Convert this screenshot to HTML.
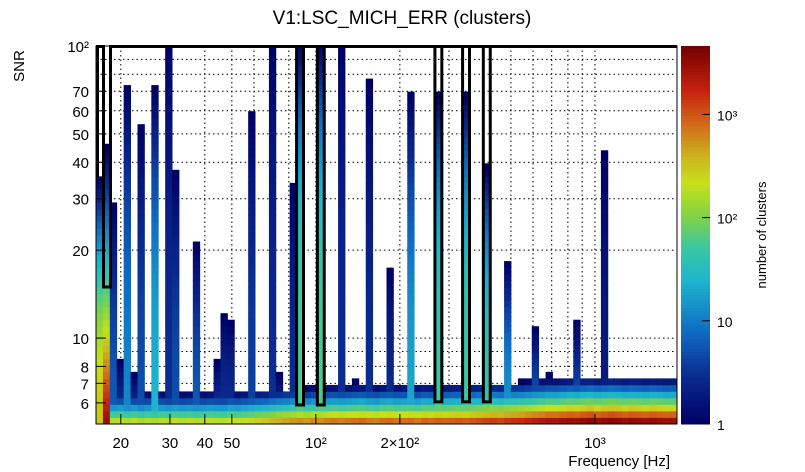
<!DOCTYPE html>
<html><head><meta charset="utf-8"><style>
body{margin:0;background:#fff;}
svg{display:block;font-family:"Liberation Sans",sans-serif;}
</style></head><body>
<svg id="chart" width="805" height="472" viewBox="0 0 805 472">
<rect width="805" height="472" fill="#fff"/>
<text x="402" y="24" font-size="19" text-anchor="middle">V1:LSC_MICH_ERR (clusters)</text>
<text transform="translate(24,66) rotate(-90)" font-size="15" text-anchor="middle">SNR</text>
<text x="670" y="466" font-size="15" text-anchor="end">Frequency [Hz]</text>
<text transform="translate(766,235) rotate(-90)" font-size="13" text-anchor="middle">number of clusters</text>
<g id="grid"></g><g id="cells"></g><g id="outl"></g><g id="axes"></g><g id="cbar"></g>
</svg>
<script>
const xMinF = 16.3, xMaxF = 1968, yMinS = 5.08, yMaxS = 100, cMax = 4600;
const nBins = 84, nRows = 58;
const baseCounts = [300,3000,180,200,160,190,150,180,160,190,170,200,180,190,170,180,200,190,180,220,200,230,250,280,300,350,400,450,500,550,500,600,550,650,700,650,700,750,800,700,650,750,800,700,750,800,700,850,800,900,850,900,950,900,1000,1100,1200,1300,1200,1400,1500,1600,1800,2000,2200,2500,2400,2700,3000,2800,3200,3500,3000,3300,3600,3400,3000,3300,3100,2900,3200,3000,2800,2900];
const peakFreqs = [16.8,17.8,18.9,21.2,23.8,26.7,30.0,31.8,38.1,48.0,49.6,57.5,68.4,81.4,87.6,105,125,159,184,223,272,342,410,484,620,684,884,1104,20.3,22.5,36.3,44.5,73,135,350];
const peakSNR   = [35,45,29,70,52,70,100,37,21,11.8,11,58,100,33,100,100,100,75,16.7,67,67,67,39,18.3,10.6,7.5,11.2,42.6,8.2,7.5,7.3,8.3,7.5,7,7.2];
const peakBase  = [300,3000,6,12,5,25,3,5,6,3,3,4,3,3,60,60,3,3,3,20,50,50,40,15,6,3,5,2,3,3,3,3,3,3,3];
const peakShape = [2,1,2,2,2,2,2,2,2,2,2,2,2,2,3,3,2,2,2,2,3,3,3,2,2,2,2,2,2,2,2,2,2,2,2];
const outlineFreqs = [87.6,105,272,342,410];
const outlineFloor = [5.9,5.9,6.05,6.05,6.05];
const xTicks = [20,30,40,50,100,200,1000];
const xTickLabels = ["20","30","40","50","10²","2×10²","10³"];
const yTicks = [6,7,8,10,20,30,40,50,60,70,100];
const yTickLabels = ["6","7","8","10","20","30","40","50","60","70","10²"];
const cTicks = [1,10,100,1000];
const cTickLabels = ["1","10","10²","10³"];

const X0=96,X1=677,Y0=46,Y1=424;
const lx0=Math.log10(xMinF), lx1=Math.log10(xMaxF), ly0=Math.log10(yMinS), ly1=Math.log10(yMaxS);
const xs=f=>X0+(Math.log10(f)-lx0)/(lx1-lx0)*(X1-X0);
const ys=s=>Y1-(Math.log10(s)-ly0)/(ly1-ly0)*(Y1-Y0);
const binOf=f=>Math.max(0,Math.min(nBins-1,Math.floor((xs(f)-X0)/((X1-X0)/nBins))));
const rowOf=s=>Math.floor((Math.log10(s)-ly0)/(ly1-ly0)*nRows);
const NS='http://www.w3.org/2000/svg';
function mk(tag,attrs,parent){const e=document.createElementNS(NS,tag);for(const k in attrs)e.setAttribute(k,attrs[k]);parent.appendChild(e);return e;}
const stops=[[0,[0,0,100]],[0.12,[10,40,140]],[0.25,[16,110,195]],[0.38,[30,180,205]],[0.47,[60,200,160]],[0.55,[130,210,70]],[0.64,[200,225,25]],[0.72,[205,170,30]],[0.8,[210,100,25]],[0.88,[200,35,15]],[1,[115,0,0]]];
function col(c){let t=Math.log10(Math.max(1,c))/Math.log10(cMax);t=Math.min(1,Math.max(0,t));
 for(let i=1;i<stops.length;i++){if(t<=stops[i][0]){const a=stops[i-1],b=stops[i],u=(t-a[0])/(b[0]-a[0]);
 return 'rgb('+a[1].map((v,k)=>Math.round(v+(b[1][k]-v)*u)).join(',')+')';}}return 'rgb(115,0,0)';}

const grid=document.getElementById('grid');
const gx=[20,30,40,50,60,70,80,90,100,200,300,400,500,600,700,800,900,1000];
gx.forEach(f=>{const l=mk('line',{x1:xs(f),x2:xs(f),y1:Y0,y2:Y1,stroke:'#000','stroke-width':1,'stroke-dasharray':'1.5,3'},grid);

});
[6,7,8,9,10,20,30,40,50,60,70,80,90].forEach(s=>{const l=mk('line',{x1:X0,x2:X1,y1:ys(s),y2:ys(s),stroke:'#000','stroke-width':1,'stroke-dasharray':'1.5,3'},grid);

});

const counts=[];
for(let i=0;i<nBins;i++){counts.push([]);for(let r=0;r<nRows;r++)counts[i].push(baseCounts[i]/Math.pow(3.4,r));}
peakFreqs.forEach((f,p)=>{const i=binOf(f),rt=rowOf(peakSNR[p]);
 for(let r=0;r<=Math.min(rt,nRows-1);r++){const fr=rt>0?r/rt:1;const c=Math.pow(peakBase[p],1-Math.pow(fr,peakShape[p]));counts[i][r]=Math.max(counts[i][r],Math.max(1,c));}});
const cells=document.getElementById('cells');
const bw=(X1-X0)/nBins,rh=(Y1-Y0)/nRows;
for(let i=0;i<nBins;i++)for(let r=0;r<nRows;r++){const c=counts[i][r];if(c<1)continue;
 const e=mk('rect',{x:(X0+i*bw).toFixed(2),y:(Y1-(r+1)*rh).toFixed(2),width:(bw+0.4).toFixed(2),height:(rh+0.4).toFixed(2),fill:col(c)},cells);
 
 }

const outl=document.getElementById('outl');
const o0=mk('path',{d:`M97.5,178 V46.5 H103.5 V287 H110.5 V46.5 H677`,fill:'none',stroke:'#000','stroke-width':3},outl);


outlineFreqs.forEach((f,k)=>{const i=binOf(f),xa=X0+i*bw,xb=xa+bw,yb=ys(outlineFloor[k]);
 const e=mk('path',{d:`M${xa},46.5 V${yb} H${xb} V46.5`,fill:'none',stroke:'#000','stroke-width':3},outl);
 
 });

const ax=document.getElementById('axes');
const fr=mk('rect',{x:X0,y:Y0,width:X1-X0,height:Y1-Y0,fill:'none',stroke:'#000','stroke-width':1},ax);


xTicks.forEach((f,k)=>{const t=mk('text',{x:xs(f),y:448,'font-size':15,'text-anchor':'middle'},ax);t.textContent=xTickLabels[k];


mk('line',{x1:xs(f),x2:xs(f),y1:Y1,y2:Y1-10,stroke:'#000'},ax);});
yTicks.forEach((s,k)=>{const t=mk('text',{x:89,y:ys(s)+6,'font-size':15,'text-anchor':'end'},ax);t.textContent=yTickLabels[k];


mk('line',{x1:X0,x2:X0+10,y1:ys(s),y2:ys(s),stroke:'#000'},ax);});

const cb=document.getElementById('cbar');const CX=681,CW=29;
for(let k=0;k<120;k++){const y0=Y1-(k+1)*(Y1-Y0)/120;const c=Math.pow(10,(k+0.5)/120*Math.log10(cMax));
 const e=mk('rect',{x:CX,y:y0.toFixed(2),width:CW,height:((Y1-Y0)/120+0.5).toFixed(2),fill:col(c)},cb);
 
 }
const cys=c=>Y1-Math.log10(c)/Math.log10(cMax)*(Y1-Y0);
cTicks.forEach((c,k)=>{const t=mk('text',{x:717,y:cys(c)+6,'font-size':14},cb);t.textContent=cTickLabels[k];


mk('line',{x1:CX+CW,x2:CX+CW-8,y1:cys(c),y2:cys(c),stroke:'#000'},cb);});
</script>
</body></html>
